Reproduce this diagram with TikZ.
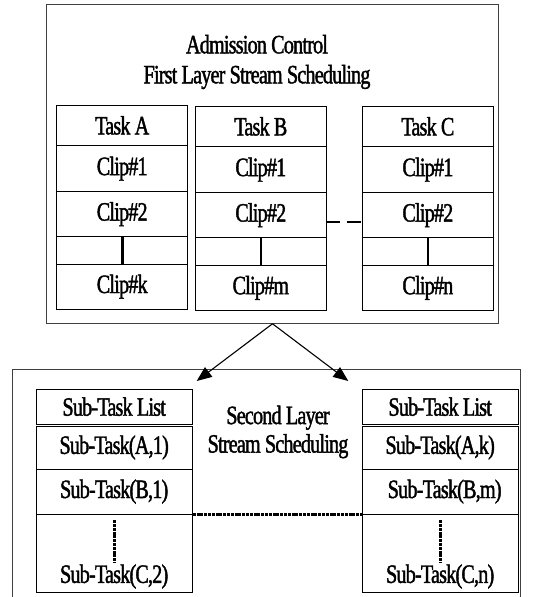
\documentclass[tikz,border=0pt]{standalone}
\usepackage{fontspec}
\setmainfont{Liberation Serif}[FakeStretch=0.76,FakeBold=1.5,LetterSpace=-3]
\usetikzlibrary{arrows.meta}
\begin{document}
\begin{tikzpicture}[x=1pt,y=-1pt,
  cell/.style={draw=black, line width=0.9pt, inner sep=0pt, font=\fontsize{26.5}{30}\selectfont},
  outer/.style={draw=black!75, line width=0.9pt},
  vbar/.style={line width=2.6pt},
  dashlink/.style={line width=2.2pt, dash pattern=on 13.5pt off 7pt},
  beads/.style={line width=3.2pt, dash pattern=on 3pt off 0.8pt},
  vbeads/.style={line width=2.8pt, dash pattern=on 3pt off 0.8pt},
  arr/.style={line width=1.1pt, -{Triangle[length=15pt,width=12pt]}},
  txt/.style={inner sep=0pt, font=\fontsize{26.5}{30}\selectfont}
]
\useasboundingbox (0,0) rectangle (555,597);
\fill[white] (0,0) rectangle (555,597);

% top outer box
\node[outer, minimum width=451.6pt, minimum height=319pt, inner sep=0pt] (topbox) at (272.5,163.8) {};
\node[txt, align=center] (title) at (257,62) {Admission Control\\[0pt]First Layer Stream Scheduling};

% Task A
\node[cell, minimum width=131pt, minimum height=40.7pt] (a0) at (122.2,125.35) {Task A};
\node[cell, minimum width=131pt, minimum height=46pt] (a1) at (122.2,168.7) {Clip\#1};
\node[cell, minimum width=131pt, minimum height=45pt] (a2) at (122.2,214.2) {Clip\#2};
\node[cell, minimum width=131pt, minimum height=27.3pt] (a3) at (122.2,250.35) {};
\node[cell, minimum width=131pt, minimum height=45.3pt] (a4) at (122.2,286.65) {Clip\#k};
% Task B
\node[cell, minimum width=131pt, minimum height=40.7pt] (b0) at (260.8,126.35) {Task B};
\node[cell, minimum width=131pt, minimum height=46pt] (b1) at (260.8,169.7) {Clip\#1};
\node[cell, minimum width=131pt, minimum height=45pt] (b2) at (260.8,215.2) {Clip\#2};
\node[cell, minimum width=131pt, minimum height=27.3pt] (b3) at (260.8,251.35) {};
\node[cell, minimum width=131pt, minimum height=45.7pt] (b4) at (260.8,287.85) {Clip\#m};
% Task C
\node[cell, minimum width=131.7pt, minimum height=40.7pt] (c0) at (427.85,126.35) {Task C};
\node[cell, minimum width=131.7pt, minimum height=46pt] (c1) at (427.85,169.7) {Clip\#1};
\node[cell, minimum width=131.7pt, minimum height=45pt] (c2) at (427.85,215.2) {Clip\#2};
\node[cell, minimum width=131.7pt, minimum height=27.3pt] (c3) at (427.85,251.35) {};
\node[cell, minimum width=131.7pt, minimum height=45.7pt] (c4) at (427.85,287.85) {Clip\#n};

\draw[vbar] (a3.north) -- (a3.south);
\draw[vbar] (b3.north) -- (b3.south);
\draw[vbar] (c3.north) -- (c3.south);
\draw[dashlink] ([yshift=-6.5pt]b2.east) -- ([yshift=-6.5pt]c2.west);

% bottom outer box (open at the bottom)
\coordinate (bl) at (12.7,600);
\coordinate (br) at (520,600);
\draw[outer] (bl) -- (12.7,369.3) -- (520,369.3) -- (br);

% arrows
\coordinate (tl) at (196.7,381);
\coordinate (tr) at (348.3,381);
\draw[arr] (topbox.south) -- (tl);
\draw[arr] (topbox.south) -- (tr);

% left sub-task list
\node[cell, minimum width=156.3pt, minimum height=34.7pt] (l0) at (114.15,406.65) {Sub-Task List};
\node[cell, minimum width=156.3pt, minimum height=43pt] (l1) at (114.15,447.5) {Sub-Task(A,1)};
\node[cell, minimum width=156.3pt, minimum height=45.3pt] (l2) at (114.15,491.65) {Sub-Task(B,1)};
\node[cell, minimum width=156.3pt, minimum height=78.4pt] (l3) at (114.15,553.5) {};
\node[txt] (l3t) at (114.15,576.5) {Sub-Task(C,2)};
% right sub-task list
\node[cell, minimum width=156.3pt, minimum height=34.7pt] (r0) at (440.15,406.65) {Sub-Task List};
\node[cell, minimum width=156.3pt, minimum height=43pt] (r1) at (440.15,447.5) {Sub-Task(A,k)};
\node[cell, minimum width=156.3pt, minimum height=45.3pt] (r2) at (440.15,491.65) {\hspace*{9pt}Sub-Task(B,m)};
\node[cell, minimum width=156.3pt, minimum height=78.4pt] (r3) at (440.15,553.5) {};
\node[txt] (r3t) at (440.15,576.5) {Sub-Task(C,n)};

\node[txt, align=center] (second) at (278,432) {Second Layer\\[-1.5pt]Stream Scheduling};

\draw[beads] (l2.south east) -- (r2.south west);
\draw[vbeads] ([yshift=-6.4pt]l3.north) -- ([yshift=-49pt]l3.north);
\draw[vbeads] ([yshift=-6.4pt]r3.north) -- ([yshift=-49pt]r3.north);
\end{tikzpicture}
\end{document}
